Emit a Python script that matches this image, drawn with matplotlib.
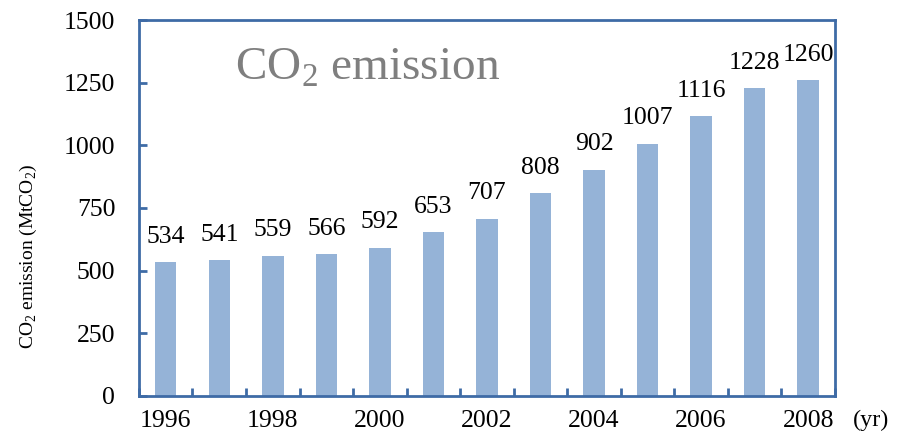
import numpy as np
import matplotlib.pyplot as plt

years = [1996, 1997, 1998, 1999, 2000, 2001, 2002, 2003, 2004, 2005, 2006, 2007, 2008]
emission = [534, 541, 559, 566, 592, 653, 707, 808, 902, 1007, 1116, 1228, 1260]
yticks = [0, 250, 500, 750, 1000, 1250, 1500]

plt.rcParams["font.family"] = ["Liberation Serif", "DejaVu Serif"]
plt.rcParams["mathtext.fontset"] = "custom"
plt.rcParams["mathtext.rm"] = "Liberation Serif"

AX_COL = "#3E6BA6"
BAR_COL = "#95B3D7"

fig = plt.figure(figsize=(9, 4.33), dpi=100)
ax = fig.add_axes([0.1544, 0.0855, 0.7733, 0.8683])

x = np.arange(len(years))
ax.bar(x, emission, width=0.4, color=BAR_COL)
for xi, v in zip(x, emission):
    ax.text(xi, v + 78, str(v), ha="center", va="baseline", fontsize=18.5)

ax.set_xlim(-0.5, len(years) - 0.5)
ax.set_ylim(0, 1500)
ax.set_yticks(yticks)
ax.set_yticklabels([str(t) for t in yticks], fontsize=18.5)

# boundary ticks between bars, labels on every other year
ax.set_xticks(np.arange(-0.5, len(years), 1.0))
ax.set_xticklabels([])
ax.set_xticks(x[::2], minor=True)
ax.set_xticklabels([str(y) for y in years[::2]], minor=True, fontsize=18.5)
ax.tick_params(axis="x", which="major", direction="in", length=6, width=2, color=AX_COL)
ax.tick_params(axis="x", which="minor", length=0, pad=10)
ax.tick_params(axis="y", direction="in", length=6, width=2, color=AX_COL, pad=17)

for s in ax.spines.values():
    s.set_color(AX_COL)
    s.set_linewidth(2)

fig.text(28 / 900, 1 - 256 / 433, r"CO$_2$ emission (MtCO$_2$)", rotation=90,
         ha="center", va="center", fontsize=14)
ax.text(0.329, 0.872, r"CO$_2$ emission", transform=ax.transAxes,
        ha="center", va="center", fontsize=34, color="#7F7F7F")
fig.text(0.968, 0.03, "(yr)", ha="center", va="center", fontsize=17.5)

fig.savefig("out.png", dpi=100)
